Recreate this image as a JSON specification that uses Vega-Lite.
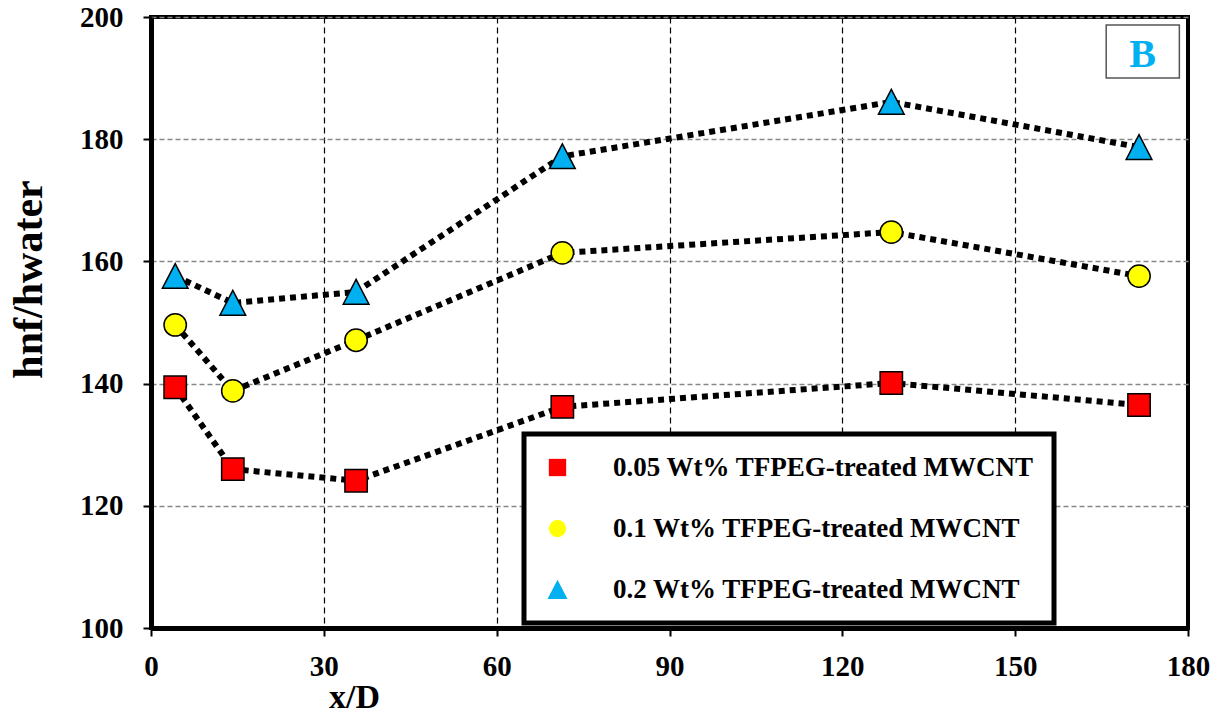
{
  "$schema": "https://vega.github.io/schema/vega-lite/v6.json",
  "width": 1037,
  "height": 611,
  "autosize": {"type": "none"},
  "padding": {"left": 151, "top": 17, "right": 37, "bottom": 87},
  "background": "white",
  "config": {
    "view": {"stroke": "black", "strokeWidth": 4},
    "font": "Liberation Serif",
    "legend": {"strokeWidth": 5},
    "axisX": {
      "grid": true, "gridColor": "black", "gridDash": [6, 4], "gridWidth": 1.2,
      "domainColor": "black", "domainWidth": 5,
      "tickColor": "black", "tickSize": 8, "tickWidth": 2,
      "labelFontSize": 29, "labelFontWeight": "bold", "labelFont": "Liberation Serif", "labelColor": "black",
      "labelPadding": 16, "labelFlush": false,
      "titleFontSize": 34, "titleFont": "Liberation Serif", "titleFontWeight": "bold", "titleColor": "black",
      "titleX": 203, "titleY": 69, "titleAlign": "center", "titleBaseline": "middle"
    },
    "axisY": {
      "grid": true, "gridColor": "#888888", "gridDash": [5, 3], "gridWidth": 1.5,
      "domainColor": "black", "domainWidth": 5,
      "tickColor": "black", "tickSize": 8, "tickWidth": 2,
      "labelFontSize": 29, "labelFontWeight": "bold", "labelFont": "Liberation Serif", "labelColor": "black",
      "labelPadding": 20, "labelFlush": false,
      "titleFontSize": 42, "titleFont": "Liberation Serif", "titleFontWeight": "bold", "titleColor": "black",
      "titleX": -123, "titleY": 262, "titleAlign": "center", "titleBaseline": "middle", "titleAngle": -90
    }
  },
  "data": {
    "values": [
      {"x": 4.2, "y": 139.4, "series": "0.05 Wt% TFPEG-treated MWCNT"},
      {"x": 14.2, "y": 126.0, "series": "0.05 Wt% TFPEG-treated MWCNT"},
      {"x": 35.6, "y": 124.1, "series": "0.05 Wt% TFPEG-treated MWCNT"},
      {"x": 71.4, "y": 136.2, "series": "0.05 Wt% TFPEG-treated MWCNT"},
      {"x": 128.5, "y": 140.1, "series": "0.05 Wt% TFPEG-treated MWCNT"},
      {"x": 171.5, "y": 136.5, "series": "0.05 Wt% TFPEG-treated MWCNT"},
      {"x": 4.2, "y": 149.6, "series": "0.1 Wt% TFPEG-treated MWCNT"},
      {"x": 14.2, "y": 138.8, "series": "0.1 Wt% TFPEG-treated MWCNT"},
      {"x": 35.6, "y": 147.1, "series": "0.1 Wt% TFPEG-treated MWCNT"},
      {"x": 71.4, "y": 161.4, "series": "0.1 Wt% TFPEG-treated MWCNT"},
      {"x": 128.5, "y": 164.8, "series": "0.1 Wt% TFPEG-treated MWCNT"},
      {"x": 171.5, "y": 157.6, "series": "0.1 Wt% TFPEG-treated MWCNT"},
      {"x": 4.2, "y": 157.6, "series": "0.2 Wt% TFPEG-treated MWCNT"},
      {"x": 14.2, "y": 153.2, "series": "0.2 Wt% TFPEG-treated MWCNT"},
      {"x": 35.6, "y": 155.0, "series": "0.2 Wt% TFPEG-treated MWCNT"},
      {"x": 71.4, "y": 177.2, "series": "0.2 Wt% TFPEG-treated MWCNT"},
      {"x": 128.5, "y": 186.1, "series": "0.2 Wt% TFPEG-treated MWCNT"},
      {"x": 171.5, "y": 178.7, "series": "0.2 Wt% TFPEG-treated MWCNT"}
    ]
  },
  "layer": [
    {
      "mark": {"type": "line", "color": "black", "strokeWidth": 6, "strokeDash": [6, 5], "strokeCap": "butt"},
      "encoding": {
        "x": {"field": "x", "type": "quantitative", "scale": {"domain": [0, 180], "nice": false, "zero": false}, "title": "x/D",
              "axis": {"values": [0, 30, 60, 90, 120, 150, 180]}},
        "y": {"field": "y", "type": "quantitative", "scale": {"domain": [100, 200], "nice": false, "zero": false}, "title": "hnf/hwater",
              "axis": {"values": [100, 120, 140, 160, 180, 200]}},
        "detail": {"field": "series"}
      }
    },
    {
      "mark": {"type": "point", "filled": true, "stroke": "black", "strokeWidth": 1.5, "opacity": 1, "size": 500},
      "encoding": {
        "x": {"field": "x", "type": "quantitative"},
        "y": {"field": "y", "type": "quantitative"},
        "shape": {
          "field": "series", "type": "nominal",
          "scale": {"domain": ["0.05 Wt% TFPEG-treated MWCNT", "0.1 Wt% TFPEG-treated MWCNT", "0.2 Wt% TFPEG-treated MWCNT"], "range": ["square", "circle", "M0,-1.12L1.15,1.1L-1.15,1.1Z"]},
          "legend": {"title": null, "orient": "none", "legendX": 373, "legendY": 417, "padding": 20, "rowPadding": 33,
            "labelFontSize": 27, "labelFont": "Liberation Serif", "labelFontWeight": "bold", "labelColor": "black",
            "labelOffset": 42, "symbolSize": 300, "symbolStrokeColor": "black", "symbolStrokeWidth": 1.5,
            "fillColor": "white", "strokeColor": "black", "labelLimit": 600}
        },
        "fill": {
          "field": "series", "type": "nominal",
          "scale": {"domain": ["0.05 Wt% TFPEG-treated MWCNT", "0.1 Wt% TFPEG-treated MWCNT", "0.2 Wt% TFPEG-treated MWCNT"], "range": ["#FF0000", "#FFFF00", "#00B0F0"]},
          "legend": {"title": null, "orient": "none", "legendX": 373, "legendY": 417, "padding": 20, "rowPadding": 33,
            "labelFontSize": 27, "labelFont": "Liberation Serif", "labelFontWeight": "bold", "labelColor": "black",
            "labelOffset": 42, "symbolSize": 300, "symbolStrokeColor": "black", "symbolStrokeWidth": 1.5,
            "fillColor": "white", "strokeColor": "black", "labelLimit": 600}
        }
      }
    },
    {
      "data": {"values": [{"label": "B"}]},
      "mark": {"type": "rect", "fill": "white", "stroke": "#555555", "strokeWidth": 1.5},
      "encoding": {
        "x": {"datum": 165.8, "type": "quantitative"},
        "x2": {"datum": 178.5},
        "y": {"datum": 198.7, "type": "quantitative"},
        "y2": {"datum": 190.0}
      }
    },
    {
      "data": {"values": [{"label": "B"}]},
      "mark": {"type": "text", "color": "#00B0F0", "fontSize": 40, "fontWeight": "bold", "font": "Liberation Serif", "align": "center", "baseline": "middle", "dy": 3},
      "encoding": {
        "x": {"datum": 172.1, "type": "quantitative"},
        "y": {"datum": 194.3, "type": "quantitative"},
        "text": {"field": "label"}
      }
    }
  ]
}
